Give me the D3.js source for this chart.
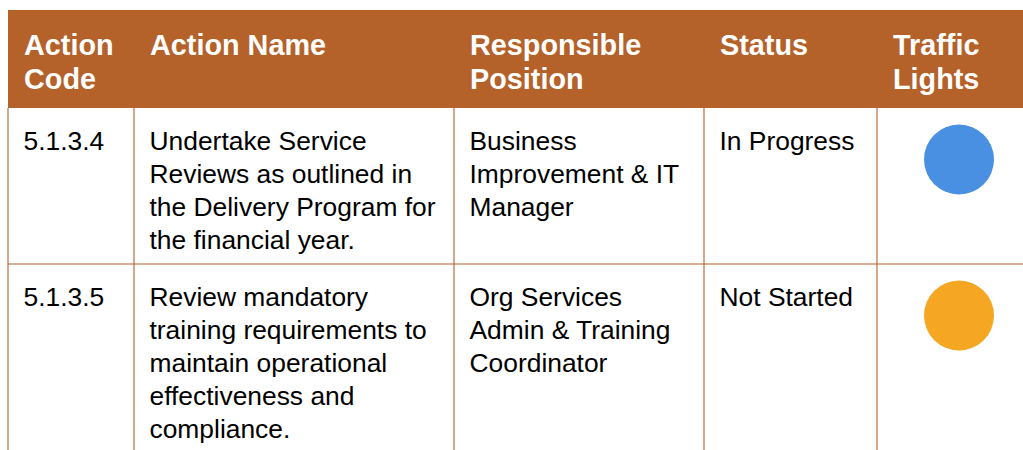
<!DOCTYPE html>
<html><head><meta charset="utf-8">
<script src="https://cdn.jsdelivr.net/npm/d3@7"></script>
<style>html,body{margin:0;padding:0;background:#fff;overflow:hidden}</style>
</head><body>
<svg id="chart" width="1023" height="450"></svg>
<script>
const headers = [["Action", "Code"], ["Action Name"], ["Responsible", "Position"], ["Status"], ["Traffic", "Lights"]];
const actionCodes = ["5.1.3.4", "5.1.3.5"];
const actionNames = [
  ["Undertake Service", "Reviews as outlined in", "the Delivery Program for", "the financial year."],
  ["Review mandatory", "training requirements to", "maintain operational", "effectiveness and", "compliance."]
];
const positions = [
  ["Business", "Improvement & IT", "Manager"],
  ["Org Services", "Admin & Training", "Coordinator"]
];
const statuses = ["In Progress", "Not Started"];
const statusNames = ["In Progress", "Not Started"];
const lightColors = ["#4A90E2", "#F5A623"];

const brown = "#B5612A";
const svg = d3.select("#chart");
const colEdges = [8, 134, 454, 704, 877, 1040];
const rowEdges = [10, 108, 264, 480];
const lightScale = d3.scaleOrdinal().domain(statusNames).range(lightColors);

// header
svg.append("rect").attr("x", colEdges[0]).attr("y", rowEdges[0])
  .attr("width", 1023 - colEdges[0]).attr("height", rowEdges[1] - rowEdges[0]).attr("fill", brown);

headers.forEach((lines, i) => {
  const t = svg.append("text")
    .attr("font-family", "'Liberation Sans', Arial, sans-serif").attr("font-weight", "bold")
    .attr("font-size", 28.8).attr("fill", "#fff");
  lines.forEach((l, j) => t.append("tspan").attr("x", colEdges[i] + 16).attr("y", 54.5 + j * 34).text(l));
});

// grid lines
const g = svg.append("g").attr("stroke", brown).attr("stroke-width", 1.1);
colEdges.slice(0, 5).forEach(x => g.append("line").attr("x1", x).attr("x2", x).attr("y1", rowEdges[1]).attr("y2", 450));
g.append("line").attr("x1", colEdges[0]).attr("x2", 1023).attr("y1", rowEdges[2]).attr("y2", rowEdges[2]);

const rows = actionCodes.map((c, i) => ({
  cells: [[c], actionNames[i], positions[i], [statuses[i]]],
  status: statuses[i], top: rowEdges[i + 1]
}));

rows.forEach(r => {
  r.cells.forEach((lines, ci) => {
    const t = svg.append("text").attr("font-family", "'Liberation Sans', Arial, sans-serif")
      .attr("font-size", 26.4).attr("fill", "#000");
    lines.forEach((l, j) => t.append("tspan").attr("x", colEdges[ci] + 15.5).attr("y", r.top + 42 + j * 33).text(l));
  });
  svg.append("circle").attr("cx", 959).attr("cy", r.top + 51.5).attr("r", 35)
    .attr("fill", lightScale(r.status));
});
</script>
</body></html>
